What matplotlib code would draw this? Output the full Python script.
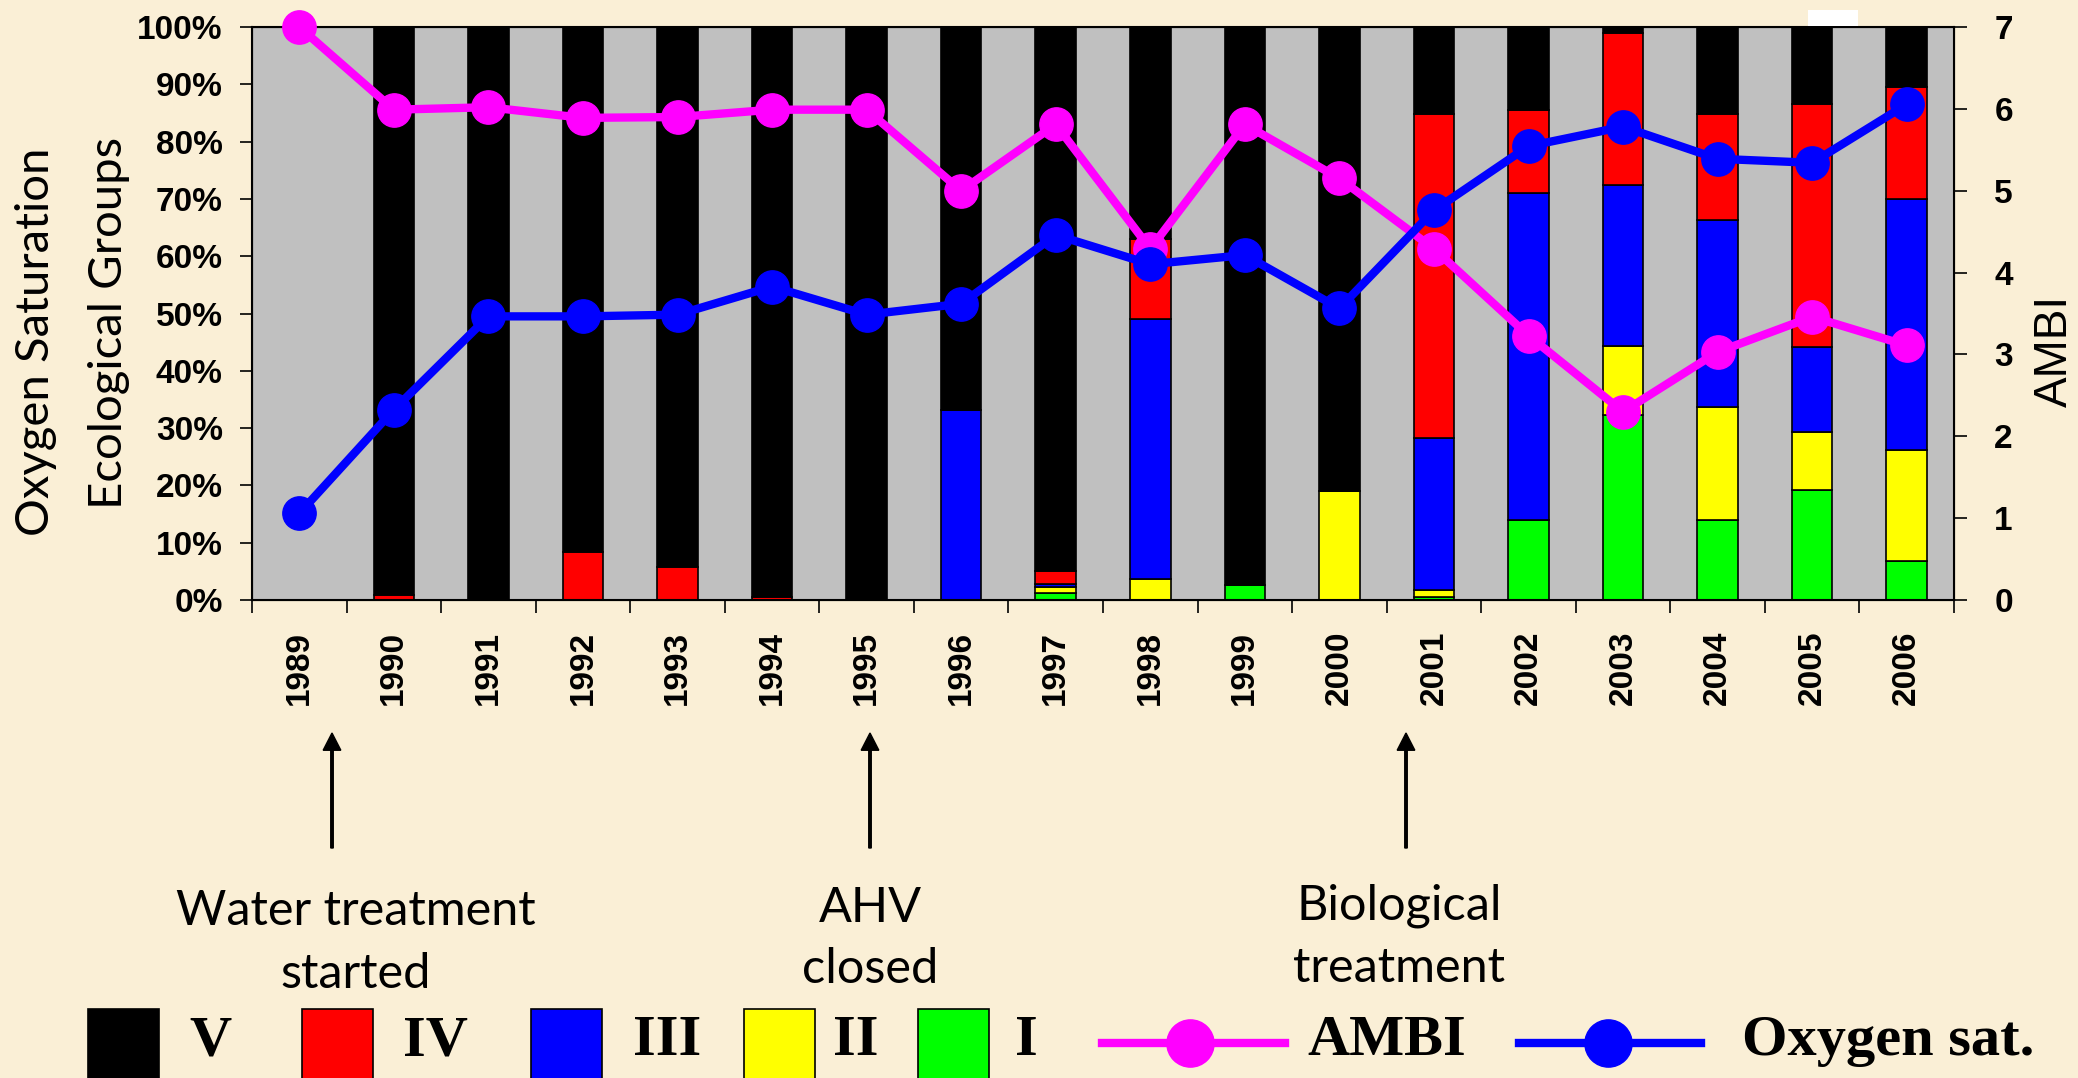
import matplotlib
matplotlib.use("Agg")
import matplotlib.pyplot as plt
import numpy as np
from matplotlib.patches import Rectangle, FancyArrow
from matplotlib.lines import Line2D

years = ["1989", "1990", "1991", "1992", "1993", "1994", "1995", "1996", "1997",
         "1998", "1999", "2000", "2001", "2002", "2003", "2004", "2005", "2006"]
group_I   = [0, 0, 0, 0, 0, 0, 0, 0, 1.2, 0, 2.7, 0, 0.5, 14.0, 32.2, 14.0, 19.2, 6.8]
group_II  = [0, 0, 0, 0, 0, 0, 0, 0, 1.0, 3.7, 0, 19.0, 1.3, 0, 12.2, 19.6, 10.2, 19.3]
group_III = [0, 0, 0, 0, 0, 0, 0, 33.1, 0.6, 45.4, 0, 0, 26.4, 57.1, 28.1, 32.8, 14.7, 43.9]
group_IV  = [0, 0.8, 0, 8.3, 5.7, 0.6, 0, 0, 2.2, 13.9, 0, 0, 56.6, 14.5, 26.4, 18.4, 42.4, 19.6]
group_V   = [0, 99.2, 100, 91.7, 94.3, 99.4, 100, 66.9, 95.0, 37.0, 97.3, 81.0, 15.2, 14.4, 1.1, 15.2, 13.5, 10.4]
ambi      = [7.0, 5.99, 6.02, 5.89, 5.90, 5.99, 5.99, 5.00, 5.81, 4.29, 5.81, 5.15, 4.29, 3.23, 2.30, 3.03, 3.46, 3.11]
oxygen    = [15.1, 33.2, 49.5, 49.5, 49.8, 54.7, 49.8, 51.7, 63.7, 58.6, 60.2, 50.9, 68.0, 79.2, 82.6, 77.0, 76.3, 86.5]

group_names = ["V", "IV", "III", "II", "I"]
pct_ticks = [0, 10, 20, 30, 40, 50, 60, 70, 80, 90, 100]
pct_labels = [f"{v}%" for v in pct_ticks]
ambi_ticks = [0, 1, 2, 3, 4, 5, 6, 7]

W, H = 2078, 1078
BG = "#FAEFD6"
fig = plt.figure(figsize=(W / 100, H / 100), dpi=100, facecolor=BG)

def fx(x):
    return x / W

def fy(y):
    return 1 - y / H

ax_l, ax_r, ax_t, ax_b = 252, 1954, 27, 600
ax = fig.add_axes([fx(ax_l), fy(ax_b), (ax_r - ax_l) / W, (ax_b - ax_t) / H])
ax.set_facecolor("#C0C0C0")

x = np.arange(len(years))
bw = 0.43
ekw = dict(width=bw, edgecolor="black", linewidth=1.2, zorder=2)
bottom = np.zeros(len(years))
stack = [(group_I, "#00FF00"), (group_II, "#FFFF00"), (group_III, "#0000FF"),
         (group_IV, "#FF0000"), (group_V, "#000000")]
for vals, col in stack:
    v = np.array(vals, dtype=float)
    ax.bar(x, v, bottom=bottom, color=col, **ekw)
    bottom += v

ax.set_xlim(-0.5, len(years) - 0.5)
ax.set_ylim(0, 100)
ax.set_yticks(pct_ticks)
ax.set_yticklabels(pct_labels)
tick_font = dict(family=["Liberation Sans", "DejaVu Sans"], weight="bold", size=24)
for lab in ax.get_yticklabels():
    lab.set_fontproperties(matplotlib.font_manager.FontProperties(**tick_font))
ax.tick_params(axis="y", direction="out", length=9, width=1.2, pad=12)
ax.set_xticks(x)
ax.set_xticklabels(years, rotation=90, va="top", ha="center")
for lab in ax.get_xticklabels():
    lab.set_fontproperties(matplotlib.font_manager.FontProperties(**tick_font))
ax.tick_params(axis="x", which="major", length=0, pad=22)
ax.set_xticks(np.arange(-0.5, len(years)), minor=True)
ax.tick_params(axis="x", which="minor", direction="out", length=9, width=1.2)
for s in ax.spines.values():
    s.set_linewidth(1.5)

ax2 = ax.twinx()
ax2.set_ylim(0, 7)
ax2.set_yticks(ambi_ticks)
ax2.set_yticklabels([str(t) for t in ambi_ticks])
for lab in ax2.get_yticklabels():
    lab.set_fontproperties(matplotlib.font_manager.FontProperties(**tick_font))
ax2.tick_params(axis="y", direction="out", length=9, width=1.2, pad=20)
ax2.plot(x, ambi, color="#FF00FF", lw=6, marker="o", ms=24, mec="#FF00FF",
         mfc="#FF00FF", clip_on=False, zorder=5)

ax3 = ax.twinx()
ax3.set_ylim(0, 100)
ax3.axis("off")
ax3.plot(x, oxygen, color="#0000FF", lw=6, marker="o", ms=24, mec="#0000FF",
         mfc="#0000FF", clip_on=False, zorder=6)

# axis titles
fig.text(fx(36), fy(342), "Oxygen Saturation", rotation=90, ha="center", va="center",
         family=["Lato", "DejaVu Sans"], size=34)
fig.text(fx(109), fy(323), "Ecological Groups", rotation=90, ha="center", va="center",
         family=["Lato", "DejaVu Sans"], size=34)
fig.text(fx(2055), fy(351), "AMBI", rotation=90, ha="center", va="center",
         family=["Liberation Sans", "DejaVu Sans"], size=33)

# white artifact
fig.patches.append(Rectangle((fx(1808), fy(26)), fx(50), 16 / H, transform=fig.transFigure,
                             facecolor="white", edgecolor="none"))

# event arrows and notes
ann_font = dict(family=["Lato", "DejaVu Sans"], size=35)
arrows_x = [332, 870, 1406]
notes = [("Water treatment", "started", 356, 925, 988),
         ("AHV", "closed", 870, 922, 983),
         ("Biological", "treatment", 1399, 920, 982)]
for axp in arrows_x:
    fig.patches.append(FancyArrow(fx(axp), fy(848), 0, (848 - 733) / H, width=0.0012,
                                  head_width=0.0085, head_length=0.016,
                                  length_includes_head=True, color="black",
                                  transform=fig.transFigure))
for l1, l2, cx, b1, b2 in notes:
    fig.text(fx(cx), fy(b1), l1, ha="center", va="baseline", **ann_font)
    fig.text(fx(cx), fy(b2), l2, ha="center", va="baseline", **ann_font)

# legend
leg_font = dict(family=["Liberation Serif", "DejaVu Serif"], weight="bold", size=42)
swatches = [("#000000", 88, "V", 210), ("#FF0000", 302, "IV", 435),
            ("#0000FF", 531, "III", 667), ("#FFFF00", 744, "II", 856),
            ("#00FF00", 918, "I", 1026)]
for col, x0, name, tx in swatches:
    fig.patches.append(Rectangle((fx(x0), fy(1100)), 71 / W, (1100 - 1009) / H,
                                 transform=fig.transFigure, facecolor=col,
                                 edgecolor="black", linewidth=1.2))
    fig.text(fx(tx), fy(1055), name, ha="center", va="baseline", **leg_font)

for col, x0, x1, mx, name, tx in [("#FF00FF", 1102, 1285, 1190, "AMBI", 1307),
                                  ("#0000FF", 1519, 1701, 1608, "Oxygen sat.", 1742)]:
    fig.lines.append(Line2D([fx(x0), fx(x1)], [fy(1043), fy(1043)], color=col, lw=6,
                            transform=fig.transFigure))
    fig.lines.append(Line2D([fx(mx)], [fy(1043)], marker="o", ms=34, color=col,
                            transform=fig.transFigure))
    fig.text(fx(tx), fy(1055), name, ha="left", va="baseline", **leg_font)

fig.savefig("out.png", dpi=100, facecolor=BG)
